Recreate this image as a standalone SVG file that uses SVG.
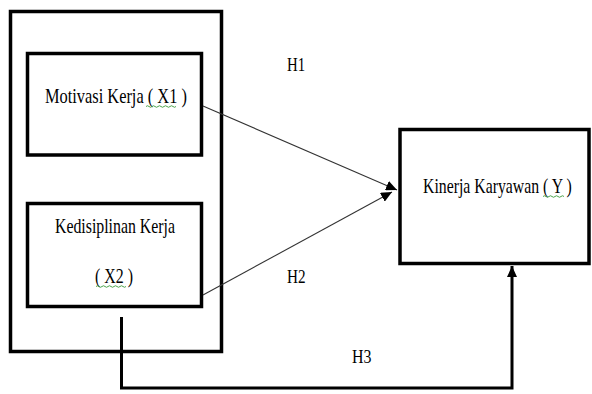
<svg xmlns="http://www.w3.org/2000/svg" width="592" height="394" viewBox="0 0 592 394">
<style>
.box{fill:none;stroke:#000;stroke-width:3.5}
.lbl{font-family:"Liberation Serif","Times New Roman",serif;font-size:21px;fill:#000}
.h{font-family:"Liberation Serif","Times New Roman",serif;font-size:19px;fill:#000}
.thin{fill:none;stroke:#333;stroke-width:1.1}
.thick{fill:none;stroke:#000;stroke-width:3}
.sq{fill:none;stroke:#3a9a3a;stroke-width:0.9}
</style>
<defs>
<marker id="ah" markerUnits="userSpaceOnUse" markerWidth="12" markerHeight="10" refX="11" refY="5" orient="auto">
<path d="M0,0 L11,5 L0,10 Z" fill="#000"/>
</marker>
</defs>
<rect width="592" height="394" fill="#fff"/>
<g id="group-x">
<rect class="box" x="10.5" y="11.5" width="211" height="340"/>
</g>
<g id="x1">
<rect class="box" x="27.5" y="53.5" width="174" height="101.5"/>
<text class="lbl" transform="translate(45,103) scale(0.78,1)">Motivasi Kerja ( X1 )</text>
<path class="sq" d="M146,106.5 q1.5,-1.5 3,0 t3,0 t3,0 t3,0 t3,0 t3,0 t3,0 t3,0 t3,0 t3,0"/>
</g>
<g id="x2">
<rect class="box" x="27.5" y="203.5" width="174" height="103"/>
<text class="lbl" transform="translate(55,233) scale(0.754,1)">Kedisiplinan Kerja</text>
<text class="lbl" transform="translate(95,283) scale(0.758,1)">( X2 )</text>
<path class="sq" d="M96,286.5 q1.5,-1.5 3,0 t3,0 t3,0 t3,0 t3,0 t3,0 t3,0 t3,0 t3,0 t3,0"/>
</g>
<g id="y">
<rect class="box" x="400" y="129.5" width="189" height="134"/>
<text class="lbl" transform="translate(423,193) scale(0.752,1)">Kinerja Karyawan ( Y )</text>
<path class="sq" d="M543,196.5 q1.5,-1.5 3,0 t3,0 t3,0 t3,0 t3,0 t3,0 t3,0"/>
</g>
<g id="connectors">
<line class="thin" x1="203" y1="106" x2="397" y2="190" marker-end="url(#ah)"/>
<line class="thin" x1="203" y1="295" x2="392" y2="192" marker-end="url(#ah)"/>
<path class="thick" d="M121.5,317 V388 H512 V266" marker-end="url(#ah)"/>
</g>
<g id="labels">
<text class="h" transform="translate(287,71) scale(0.78,1)">H1</text>
<text class="h" transform="translate(287,283) scale(0.8,1)">H2</text>
<text class="h" transform="translate(352,363) scale(0.84,1)">H3</text>
</g>
</svg>
